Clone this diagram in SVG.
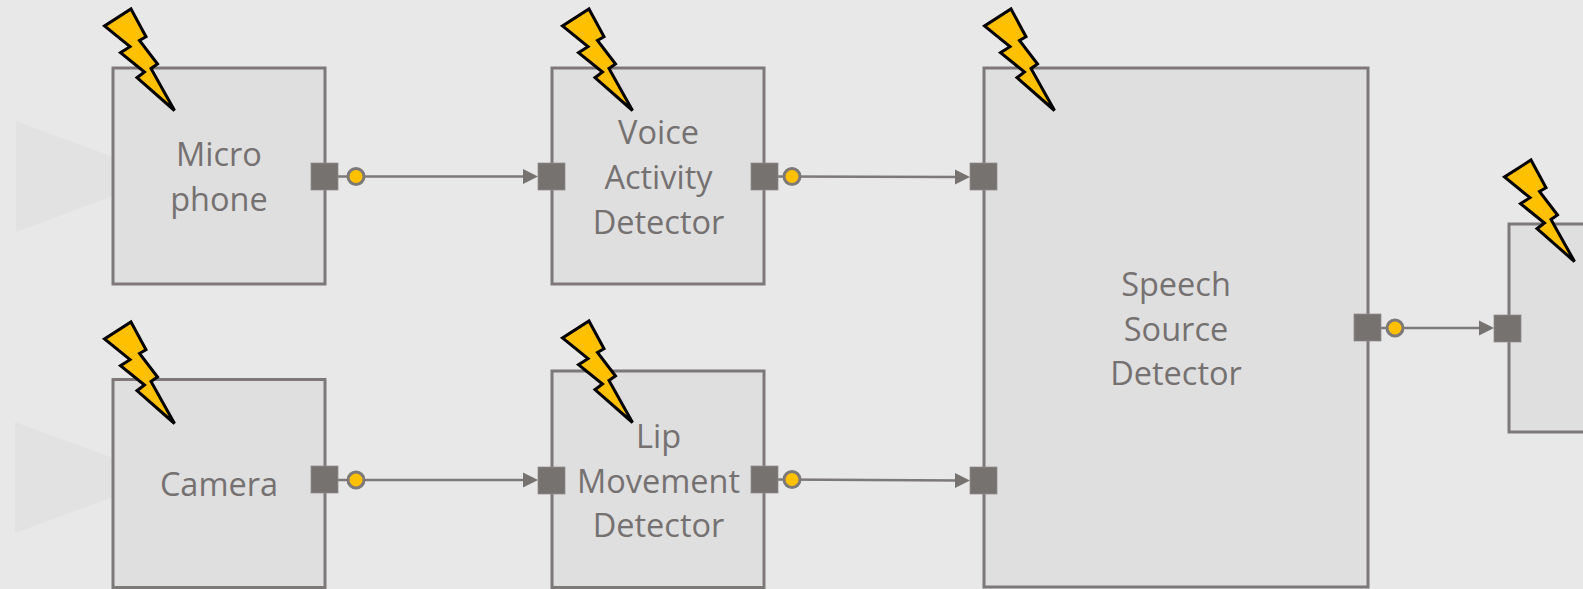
<svg xmlns="http://www.w3.org/2000/svg" width="1583" height="589" viewBox="0 0 1583 589">
<style>
.box{fill:#dfdfdf;stroke:#7c7978;stroke-width:3}
.port{fill:#767270;stroke:#8f8c8b;stroke-width:.75}
.dot{fill:#ffc000;stroke:#7c7978;stroke-width:3}
.wire{fill:none;stroke:#7c7978;stroke-width:2.5}
.tip{fill:#767270}
.cone{fill:#e2e2e2}
.t{font-family:"Open Sans","Liberation Sans",sans-serif;font-size:32.500px;fill:#767171;text-anchor:middle}
</style>
<defs>
<polygon id="bolt" points="131,9 146,36.700 139.500,40.500 157.500,64 151,68.500 174.500,110.500 137,77.700 144.500,72 120.500,52.700 130,46.700 104.500,26" fill="#ffc000" stroke="#000" stroke-width="3" stroke-miterlimit="4"/>
</defs>
<rect width="1583" height="589" fill="#e8e8e8"/>
<polygon class="cone" points="16,121 113,157 113,196 16,232"/>
<polygon class="cone" points="15,422 113,458 113,497 15,533"/>
<g id="connectors">
<path class="wire" d="M338,176.500H530"/><polygon class="tip" points="523,169 538,176.500 523,184"/>
<path class="wire" d="M778,176.500L962,177"/><polygon class="tip" points="955,169.500 970,177 955,184.500"/>
<path class="wire" d="M338,480H530"/><polygon class="tip" points="523,472.500 538,480 523,487.500"/>
<path class="wire" d="M778,479.500L962,480.500"/><polygon class="tip" points="955,473 970,480.500 955,488"/>
<path class="wire" d="M1381,328H1486"/><polygon class="tip" points="1479,320.500 1494,328 1479,335.500"/>
</g>
<g id="microphone">
<rect class="box" x="113" y="68" width="212" height="216"/>
<text class="t" x="219" y="166">Micro</text><text class="t" x="219" y="211">phone</text>
<rect class="port" x="311" y="163" width="27" height="27"/><circle class="dot" cx="356" cy="176.500" r="8"/>
<use href="#bolt"/>
</g>
<g id="vad">
<rect class="box" x="552" y="68" width="212" height="216"/>
<text class="t" x="658.500" y="143.500">Voice</text><text class="t" x="658.500" y="188.500">Activity</text><text class="t" x="658.500" y="233.500">Detector</text>
<rect class="port" x="538" y="163" width="27" height="27"/>
<rect class="port" x="751" y="163" width="27" height="27"/><circle class="dot" cx="792" cy="176.500" r="8"/>
<use href="#bolt" x="458"/>
</g>
<g id="speech-source">
<rect class="box" x="984" y="68" width="384" height="519"/>
<text class="t" x="1176" y="295.500">Speech</text><text class="t" x="1176" y="340.500">Source</text><text class="t" x="1176" y="384.500">Detector</text>
<rect class="port" x="970" y="467" width="27" height="27"/>
<rect class="port" x="970" y="163" width="27" height="27"/>
<rect class="port" x="1354" y="314" width="27" height="27"/><circle class="dot" cx="1395" cy="328" r="8"/>
<use href="#bolt" x="880"/>
</g>
<g id="camera">
<rect class="box" x="113" y="379.500" width="212" height="208"/>
<text class="t" x="219" y="495.500">Camera</text>
<rect class="port" x="311" y="466" width="27" height="27"/><circle class="dot" cx="356" cy="480" r="8"/>
<use href="#bolt" y="313"/>
</g>
<g id="lip">
<rect class="box" x="552" y="371" width="212" height="216.500"/>
<text class="t" x="658.500" y="447.500">Lip</text><text class="t" x="658.500" y="492.500">Movement</text><text class="t" x="658.500" y="536.500">Detector</text>
<rect class="port" x="538" y="467" width="27" height="27"/>
<rect class="port" x="751" y="466" width="27" height="27"/><circle class="dot" cx="792" cy="479.500" r="8"/>
<use href="#bolt" x="458" y="312"/>
</g>
<g id="output">
<rect class="box" x="1509" y="224" width="90" height="208"/>
<rect class="port" x="1494" y="315" width="27" height="27"/>
<use href="#bolt" x="1400" y="151"/>
</g>
</svg>
